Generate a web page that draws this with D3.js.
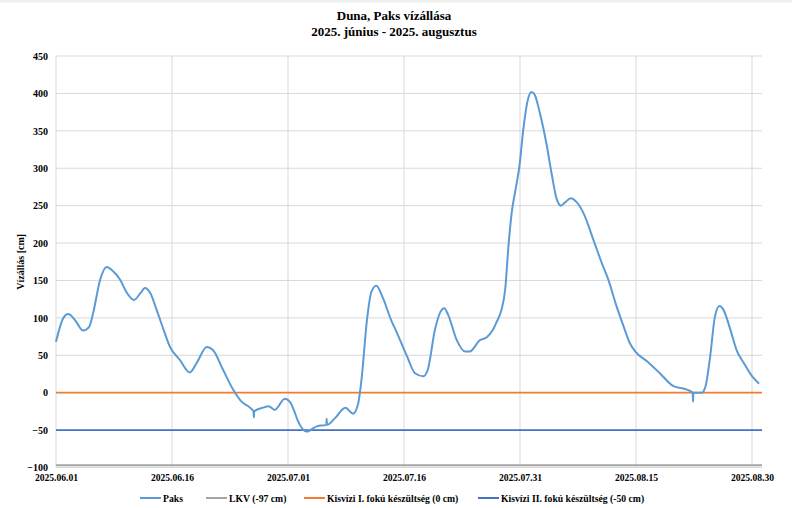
<!DOCTYPE html>
<html>
<head>
<meta charset="utf-8">
<script src="https://cdn.jsdelivr.net/npm/d3@7"></script>
<style>
  html, body { margin: 0; padding: 0; background: #fff; }
  svg { display: block; }
  text { font-family: "Liberation Serif", "Times New Roman", serif; font-weight: bold; fill: #000; }
</style>
</head>
<body>
<svg id="chart" width="792" height="508"></svg>
<script>
const titleLines = ["Duna, Paks vízállása", "2025. június - 2025. augusztus"];
const yAxisTitle = "Vízállás [cm]";

const times = [
  "2025-06-01T00","2025-06-01T23","2025-06-02T14","2025-06-03T11","2025-06-04T12","2025-06-05T07","2025-06-05T19",
  "2025-06-06T17","2025-06-07T13","2025-06-08T10","2025-06-09T07","2025-06-10T02","2025-06-11T02","2025-06-11T22",
  "2025-06-12T12","2025-06-13T05","2025-06-14T00","2025-06-14T22","2025-06-15T17","2025-06-17T00","2025-06-18T07",
  "2025-06-19T05","2025-06-20T12","2025-06-21T07","2025-06-22T14","2025-06-23T22","2025-06-25T00","2025-06-26T02",
  "2025-06-26T13","2025-06-26T14","2025-06-26T15","2025-06-27T19","2025-06-28T12","2025-06-29T07","2025-06-30T14",
  "2025-07-01T07","2025-07-01T17","2025-07-02T07","2025-07-03T10","2025-07-04T17","2025-07-05T23","2025-07-06T00",
  "2025-07-06T01","2025-07-07T02","2025-07-08T10","2025-07-09T10","2025-07-10T02","2025-07-10T12","2025-07-11T05",
  "2025-07-11T19","2025-07-12T10","2025-07-13T07","2025-07-14T10","2025-07-15T00","2025-07-16T10","2025-07-17T10",
  "2025-07-18T12","2025-07-19T02","2025-07-20T00","2025-07-20T17","2025-07-21T05","2025-07-21T17","2025-07-22T19",
  "2025-07-23T22","2025-07-24T12","2025-07-25T19","2025-07-26T17","2025-07-27T12","2025-07-28T00","2025-07-28T14",
  "2025-07-29T02","2025-07-29T12","2025-07-29T22","2025-07-30T10","2025-07-30T22","2025-07-31T10","2025-08-01T00",
  "2025-08-01T12","2025-08-01T22","2025-08-02T14","2025-08-03T10","2025-08-04T02","2025-08-04T17","2025-08-05T07",
  "2025-08-05T19","2025-08-06T14","2025-08-07T07","2025-08-08T05","2025-08-09T12","2025-08-10T14","2025-08-11T10",
  "2025-08-12T12","2025-08-13T10","2025-08-14T05","2025-08-14T22","2025-08-16T10","2025-08-18T02","2025-08-19T19",
  "2025-08-21T14","2025-08-22T08","2025-08-22T09","2025-08-22T10","2025-08-23T12","2025-08-24T00","2025-08-24T14",
  "2025-08-25T05","2025-08-25T19","2025-08-26T07","2025-08-27T05","2025-08-28T00","2025-08-28T22","2025-08-30T00",
  "2025-08-30T22"
];
const paks = [
  68,100,105,97,83,88,106,
  151,168,162,151,135,124,133,
  140,133,111,84,62,44,27,
  40,61,57,31,4,-12,-20,
  -25,-33,-25,-20,-18,-23,-8,
  -13,-22,-38,-52,-45,-43,-35,
  -43,-34,-20,-28,-14,17,97,
  135,143,126,95,82,48,26,
  22,31,84,108,113,104,71,
  55,55,70,74,84,95,110,
  138,195,240,271,302,351,391,
  402,398,373,333,293,260,250,
  254,260,255,240,204,173,151,
  115,88,66,55,42,26,9,
  4,0,-12,0,0,9,48,
  102,116,111,84,57,40,22,
  12
];

const seriesNames = ["Paks", "LKV (-97 cm)", "Kisvízi I. fokú készültség (0 cm)", "Kisvízi II. fokú készültség (-50 cm)"];
const levelValues = [-97, 0, -50];
const seriesColors = ["#5b9bd5", "#a5a5a5", "#ed7d31", "#4472c4"];

const yTicks = [-100, -50, 0, 50, 100, 150, 200, 250, 300, 350, 400, 450];
const xTickDates = ["2025-06-01","2025-06-16","2025-07-01","2025-07-16","2025-07-31","2025-08-15","2025-08-30"];
const xDomain = ["2025-06-01T00", "2025-08-31T07"];

const parseT = d3.utcParse("%Y-%m-%dT%H");
const parseD = d3.utcParse("%Y-%m-%d");
const fmt = d3.utcFormat("%Y.%m.%d");

const svg = d3.select("#chart");
const mLeft = 56, mRight = 762, mTop = 56, mBottom = 467.5;

const x = d3.scaleUtc().domain(xDomain.map(parseT)).range([mLeft, mRight]);
const y = d3.scaleLinear().domain([-100, 450]).range([mBottom, mTop]);

// thin top band as in the reference
svg.append("rect").attr("x", 0).attr("y", 0).attr("width", 792).attr("height", 2.5).attr("fill", "#eef0ee");

// gridlines
const grid = svg.append("g");
grid.selectAll("line.h").data(yTicks).join("line")
  .attr("x1", mLeft).attr("x2", mRight)
  .attr("y1", d => y(d)).attr("y2", d => y(d))
  .attr("stroke", "#d9d9d9").attr("stroke-width", 1);
grid.selectAll("line.v").data(xTickDates.map(parseD)).join("line")
  .attr("x1", d => x(d)).attr("x2", d => x(d))
  .attr("y1", mTop).attr("y2", mBottom)
  .attr("stroke", "#d9d9d9").attr("stroke-width", 1);

// Y axis labels
const yAxis = svg.append("g").attr("transform", `translate(${mLeft},0)`)
  .call(d3.axisLeft(y).tickValues(yTicks).tickSize(0).tickPadding(8));
yAxis.select(".domain").remove();
yAxis.selectAll("text").style("font-family", "'Liberation Serif', serif").style("font-weight", "bold").style("font-size", "10px");

// X axis labels
const xAxis = svg.append("g").attr("transform", `translate(0,${mBottom})`)
  .call(d3.axisBottom(x).tickValues(xTickDates.map(parseD)).tickFormat(fmt).tickSize(0).tickPadding(7));
xAxis.select(".domain").remove();
xAxis.selectAll("text").style("font-family", "'Liberation Serif', serif").style("font-weight", "bold").style("font-size", "9.6px");

// horizontal level lines
const xr = x.range();
svg.selectAll("line.level").data(levelValues).join("line")
  .attr("x1", xr[0]).attr("x2", xr[1])
  .attr("y1", d => y(d)).attr("y2", d => y(d))
  .attr("stroke", (d, i) => seriesColors[i + 1]).attr("stroke-width", (d, i) => i === 0 ? 2.2 : 1.8);

// Paks line
const pts = times.map((t, i) => [parseT(t), paks[i]]);
svg.append("path").datum(pts)
  .attr("fill", "none").attr("stroke", seriesColors[0]).attr("stroke-width", 2)
  .attr("stroke-linejoin", "round")
  .attr("d", d3.line().x(d => x(d[0])).y(d => y(d[1])).curve(d3.curveMonotoneX));

// title
svg.append("g").selectAll("text").data(titleLines).join("text")
  .attr("x", 394).attr("y", (d, i) => 19.5 + i * 16)
  .attr("text-anchor", "middle").style("font-size", "13px").text(d => d);

// Y axis title
svg.append("text").attr("transform", `translate(24,${(mTop + mBottom) / 2}) rotate(-90)`)
  .attr("text-anchor", "middle").style("font-size", "10px").text(yAxisTitle);

// legend
const legendX = [140, 206, 304, 478];
const lg = svg.append("g").selectAll("g").data(seriesNames).join("g")
  .attr("transform", (d, i) => `translate(${legendX[i]},498)`);
lg.append("line").attr("x1", 0).attr("x2", 21).attr("y1", 0).attr("y2", 0)
  .attr("stroke", (d, i) => seriesColors[i]).attr("stroke-width", 2);
lg.append("text").attr("x", 23).attr("y", 3.5).style("font-size", "9.7px").text(d => d);
</script>
</body>
</html>
